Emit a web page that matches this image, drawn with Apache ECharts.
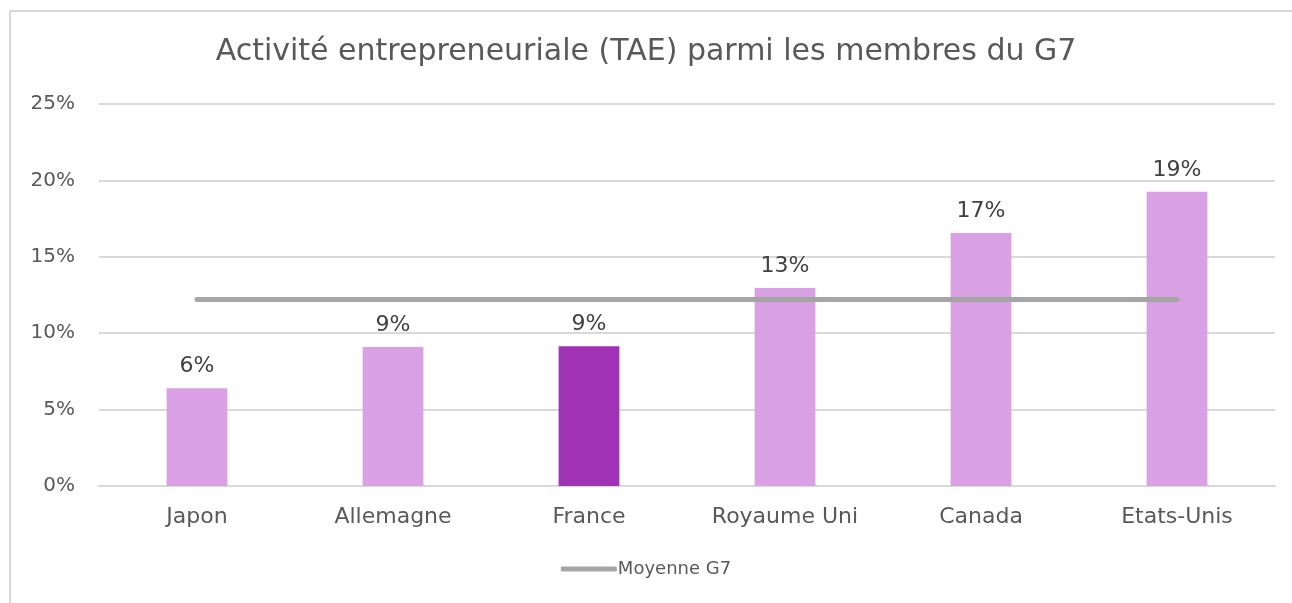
<!DOCTYPE html>
<html>
<head>
<meta charset="utf-8">
<script src="https://cdn.jsdelivr.net/npm/echarts@6/dist/echarts.min.js"></script>
<style>
html,body{margin:0;padding:0;background:#fff;}
#c{width:1292px;height:603px;}
</style>
</head>
<body>
<div id="c"></div>
<script>
var titleText = "Activité entrepreneuriale (TAE) parmi les membres du G7";
var categories = ["Japon", "Allemagne", "France", "Royaume Uni", "Canada", "Etats-Unis"];
var taeValues = [6.4, 9.1, 9.15, 12.95, 16.55, 19.25];
var moyenneG7 = [12.2, 12.2, 12.2, 12.2, 12.2, 12.2];
var highlightIndex = 2;
var yTicks = {min: 0, max: 25, interval: 5};

var chart = echarts.init(document.getElementById('c'), null, {renderer: 'canvas'});
var fontFam = "'DejaVu Sans', sans-serif";
var option = {
  animation: false,
  backgroundColor: '#fff',
  graphic: [{
    type: 'line',
    shape: {x1: 10, y1: 11, x2: 10, y2: 603},
    style: {stroke: '#d9d9d9', lineWidth: 2},
    silent: true
  }, {
    type: 'line',
    shape: {x1: 10, y1: 11, x2: 1292, y2: 11},
    style: {stroke: '#d9d9d9', lineWidth: 2},
    silent: true
  }],
  title: {
    text: titleText,
    left: 'center',
    top: 32,
    textStyle: {fontFamily: fontFam, fontSize: 30, fontWeight: 'normal', color: '#595959'}
  },
  grid: {left: 99, right: 17, top: 104, bottom: 117, containLabel: false},
  legend: {
    data: [{name: 'Moyenne G7', icon: 'roundRect'}],
    bottom: 20,
    left: 'center',
    itemWidth: 56,
    itemHeight: 5,
    itemGap: 0,
    textStyle: {fontFamily: fontFam, fontSize: 18, color: '#595959', padding: [0, 0, 0, -4]}
  },
  xAxis: {
    type: 'category',
    data: categories,
    boundaryGap: true,
    axisLine: {show: true, lineStyle: {color: '#d9d9d9', width: 2}},
    axisTick: {show: false},
    axisLabel: {fontFamily: fontFam, fontSize: 22, color: '#595959', margin: 20}
  },
  yAxis: {
    type: 'value',
    min: yTicks.min,
    max: yTicks.max,
    interval: yTicks.interval,
    axisLine: {show: false},
    axisTick: {show: false},
    splitLine: {lineStyle: {color: '#d9d9d9', width: 2}},
    axisLabel: {fontFamily: fontFam, fontSize: 20, color: '#595959', margin: 24, formatter: '{value}%'}
  },
  series: [{
    name: 'TAE',
    type: 'bar',
    barWidth: '31%',
    data: taeValues.map(function (v, i) {
      return {value: v, itemStyle: {color: i === highlightIndex ? '#a033b5' : '#d9a0e3'}};
    }),
    label: {
      show: true,
      position: 'top',
      distance: 11,
      fontFamily: fontFam,
      fontSize: 22,
      color: '#404040',
      formatter: function (p) { return Math.round(p.value) + '%'; }
    },
    z: 2
  }, {
    name: 'Moyenne G7',
    type: 'line',
    data: moyenneG7,
    symbol: 'none',
    lineStyle: {color: '#a5a5a5', width: 5, cap: 'round'},
    itemStyle: {color: '#a5a5a5'},
    z: 3
  }]
};
chart.setOption(option);
</script>
</body>
</html>
